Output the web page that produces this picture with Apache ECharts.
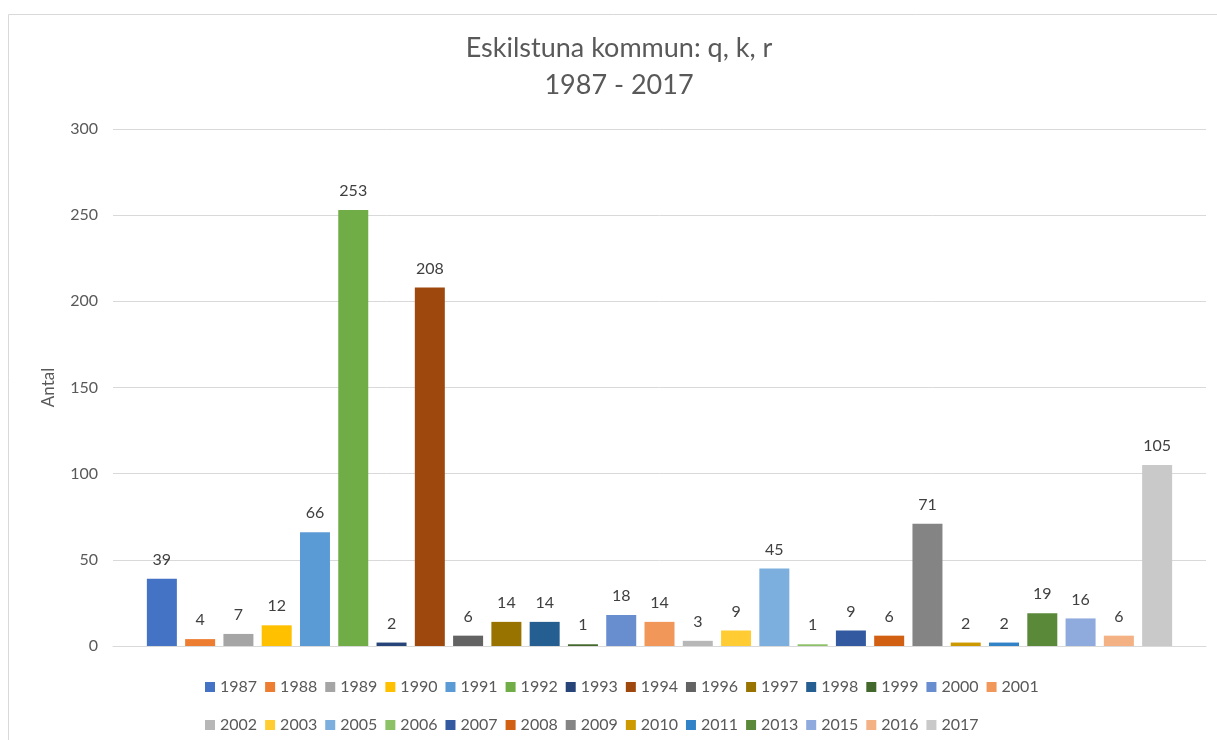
<!DOCTYPE html>
<html>
<head>
<meta charset="utf-8">
<script src="https://cdn.jsdelivr.net/npm/echarts@6/dist/echarts.min.js"></script>
<style>
html,body{margin:0;padding:0;background:#fff;}
#chart{width:1217px;height:740px;}
</style>
</head>
<body>
<div id="chart"></div>
<script>
const years = ['1987','1988','1989','1990','1991','1992','1993','1994','1996','1997','1998','1999','2000','2001','2002','2003','2005','2006','2007','2008','2009','2010','2011','2013','2015','2016','2017'];
const values = [39,4,7,12,66,253,2,208,6,14,14,1,18,14,3,9,45,1,9,6,71,2,2,19,16,6,105];
const colors = ['#4472C4','#ED7D31','#A5A5A5','#FFC000','#5B9BD5','#70AD47','#264478','#9E480E','#636363','#997300','#255E91','#43682B','#698ED0','#F1975A','#B7B7B7','#FFCD33','#7CAFDD','#8CC168','#335AA1','#D26012','#848484','#CC9A00','#3282C8','#5A8A39','#8FAADC','#F4B183','#C9C9C9'];
const yTicks = [0, 50, 100, 150, 200, 250, 300];
const titleText = 'Eskilstuna kommun: q, k, r\n1987 - 2017';
const yName = 'Antal';

const FONT = 'Lato';
const chart = echarts.init(document.getElementById('chart'));

const series = years.map((y, i) => ({
  name: y,
  type: 'bar',
  data: [values[i]],
  barWidth: 30,
  barGap: '27.6%',
  itemStyle: { color: colors[i] },
  label: {
    show: true,
    position: 'top',
    distance: 11,
    color: '#404040',
    fontFamily: FONT,
    fontSize: 16
  }
}));

const legendCommon = {
  orient: 'horizontal',
  left: 205,
  padding: 0,
  itemWidth: 10,
  itemHeight: 10,
  itemGap: 8,
  icon: 'rect',
  textStyle: { color: '#595959', fontFamily: FONT, fontSize: 16 }
};

chart.setOption({
  animation: false,
  color: colors,
  title: {
    text: titleText,
    left: 619,
    textAlign: 'center',
    top: 30,
    padding: 0,
    textStyle: {
      color: '#595959',
      fontFamily: FONT,
      fontWeight: 'normal',
      fontSize: 27,
      lineHeight: 37
    }
  },
  legend: [
    Object.assign({}, legendCommon, { top: 679, data: years.slice(0, 14) }),
    Object.assign({}, legendCommon, { top: 717, data: years.slice(14) })
  ],
  grid: { left: 113, right: 11, top: 129, bottom: 94, containLabel: false },
  xAxis: {
    type: 'category',
    data: [''],
    axisLine: { show: true, lineStyle: { color: '#d9d9d9', width: 1 } },
    axisTick: { show: false },
    axisLabel: { show: false },
    splitLine: { show: false }
  },
  yAxis: {
    type: 'value',
    min: yTicks[0],
    max: yTicks[yTicks.length - 1],
    interval: 50,
    name: yName,
    nameLocation: 'middle',
    nameGap: 56,
    nameTextStyle: { color: '#595959', fontFamily: FONT, fontSize: 17 },
    axisLine: { show: false },
    axisTick: { show: false },
    axisLabel: { color: '#595959', fontFamily: FONT, fontSize: 16, margin: 15 },
    splitLine: { lineStyle: { color: '#d9d9d9', width: 1 } }
  },
  graphic: [{
    type: 'rect',
    shape: { x: 8.5, y: 14.5, width: 1230, height: 760 },
    style: { fill: 'none', stroke: '#d9d9d9', lineWidth: 1 },
    silent: true
  }],
  series: series
});
</script>
</body>
</html>
